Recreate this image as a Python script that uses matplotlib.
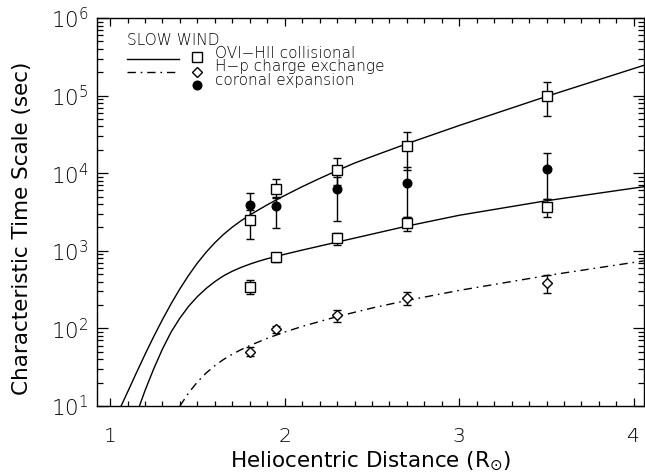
import numpy as np
import matplotlib
matplotlib.use("Agg")
import matplotlib.pyplot as plt
from matplotlib.ticker import FixedLocator, LogLocator, NullFormatter
from matplotlib.lines import Line2D

# ---- data ----
r_obs = [1.8, 1.95, 2.3, 2.7, 3.5]

coll_up = [2460, 6300, 11000, 22400, 99000]
coll_up_hi = [3400, 8400, 15500, 34000, 148000]
coll_up_lo = [1400, 4800, 7000, 11000, 54000]

coll_lo = [345, 825, 1450, 2300, 3700]
coll_lo_hi = [420, 945, 1680, 2760, 4600]
coll_lo_lo = [277, 725, 1190, 1820, 2760]

chex = [50, 97, 148, 245, 380]
chex_hi = [57, 107, 174, 292, 490]
chex_lo = [44, 87, 122, 200, 283]

expn = [3900, 3780, 6200, 7400, 11400]
expn_hi = [5500, 5000, 9000, 11900, 18300]
expn_lo = [2460, 1950, 2400, 2760, 4600]

# model curves
r_up = [1.063, 1.10, 1.15, 1.20, 1.25, 1.30, 1.35, 1.40, 1.45, 1.50, 1.55, 1.60, 1.65,
        1.70, 1.75, 1.80, 1.85, 1.90, 1.95, 2.00, 2.10, 2.20, 2.30, 2.40, 2.50, 2.70,
        3.00, 3.50, 4.057]
t_up = [10, 15.1, 26.6, 46.2, 78.5, 130, 209, 324, 484, 695, 959, 1270, 1630,
        2020, 2440, 2880, 3370, 3910, 4510, 5160, 6700, 8550, 10800, 13500, 16400, 24000,
        41200, 97700, 245500]

r_lo = [1.168, 1.20, 1.25, 1.30, 1.35, 1.40, 1.45, 1.50, 1.55, 1.60, 1.65, 1.70, 1.75,
        1.80, 1.85, 1.90, 2.00, 2.10, 2.30, 2.70, 3.00, 3.50, 4.057]
t_lo = [10, 15.8, 30.2, 54.3, 90.2, 136, 193, 257, 327, 401, 476, 546, 611,
        673, 733, 791, 902, 1021, 1294, 2080, 2870, 4420, 6700]

r_cx = [1.40, 1.45, 1.50, 1.55, 1.60, 1.65, 1.70, 1.75, 1.80, 1.90, 2.00, 2.10, 2.30,
        2.50, 2.70, 3.00, 3.50, 4.057]
t_cx = [10, 14.8, 20.4, 26.6, 33.1, 39.8, 46.5, 53.2, 60.1, 74.5, 89.7, 106, 142,
        183, 229, 309, 479, 741]

xticks = [1, 2, 3, 4]
xticklabels = ["1", "2", "3", "4"]
yticks = [1e1, 1e2, 1e3, 1e4, 1e5, 1e6]
yticklabels = [r"$10^{1}$", r"$10^{2}$", r"$10^{3}$", r"$10^{4}$", r"$10^{5}$", r"$10^{6}$"]

legend_title = "SLOW WIND"
legend_labels = ["OVI\u2212HII collisional", "H\u2212p charge exchange", "coronal expansion"]

# ---- figure ----
plt.rcParams['font.family'] = ['DejaVu Sans']
plt.rcParams['font.weight'] = 'light'
plt.rcParams['mathtext.default'] = 'regular'
fig = plt.figure(figsize=(6.45, 4.76), dpi=100)
ax = fig.add_axes([97 / 645, 1 - 406 / 476, 547 / 645, 388 / 476])

dd = (0, (6, 3.5, 1.2, 3.5))
ax.plot(r_up, t_up, color='k', lw=1.0)
ax.plot(r_lo, t_lo, color='k', lw=1.0)
ax.plot(r_cx, t_cx, color='k', lw=1.0, linestyle=dd)

def err(vals, hi, lo):
    v = np.array(vals, float)
    return [v - np.array(lo, float), np.array(hi, float) - v]

ekw = dict(ecolor='k', elinewidth=1.0, capsize=2.6, capthick=1.0, linestyle='none')
ax.errorbar(r_obs, expn, yerr=err(expn, expn_hi, expn_lo), marker='o', ms=6.2,
            mfc='k', mec='k', **ekw)
ax.errorbar(r_obs, coll_up, yerr=err(coll_up, coll_up_hi, coll_up_lo), marker='s', ms=6.5,
            mfc='white', mec='k', mew=1.0, **ekw)
ax.errorbar(r_obs, coll_lo, yerr=err(coll_lo, coll_lo_hi, coll_lo_lo), marker='s', ms=6.5,
            mfc='white', mec='k', mew=1.0, **ekw)
ax.errorbar(r_obs, chex, yerr=err(chex, chex_hi, chex_lo), marker='D', ms=5.0,
            mfc='white', mec='k', mew=1.0, **ekw)

ax.set_yscale('log')
ax.set_xlim(0.925, 4.058)
ax.set_ylim(10, 1e6)

ax.xaxis.set_major_locator(FixedLocator(xticks))
ax.set_xticklabels(xticklabels)
ax.xaxis.set_minor_locator(FixedLocator(np.round(np.arange(0.9, 4.1, 0.1), 2)))
ax.yaxis.set_major_locator(FixedLocator(yticks))
ax.set_yticklabels(yticklabels)
ax.yaxis.set_minor_locator(LogLocator(base=10, subs=np.arange(2, 10)))
ax.yaxis.set_minor_formatter(NullFormatter())

ax.tick_params(axis='both', which='both', direction='in', top=True, right=True,
               width=0.9, colors='k')
ax.tick_params(axis='x', which='major', length=6, pad=15, labelsize=14.5)
ax.tick_params(axis='x', which='minor', length=3.3)
ax.tick_params(axis='y', which='major', length=8, pad=6, labelsize=15.5)
ax.tick_params(axis='y', which='minor', length=4.3)
for s in ax.spines.values():
    s.set_linewidth(1.0)

ax.set_xlabel(r"Heliocentric Distance (R$_{\odot}$)", fontsize=15.5, labelpad=3)
ax.set_ylabel("Characteristic Time Scale (sec)", fontsize=15.5)
ax.yaxis.set_label_coords(-0.118, 0.459)

# legend drawn by hand
tr = ax.transAxes
ax.text(0.055, 0.943, legend_title, transform=tr, fontsize=11, va='center', ha='left')
ax.add_line(Line2D([0.055, 0.150], [0.894, 0.894], transform=tr, color='k', lw=1.0))
ax.add_line(Line2D([0.055, 0.150], [0.862, 0.862], transform=tr, color='k', lw=1.0, linestyle=dd))
ax.plot([0.182], [0.899], transform=tr, marker='s', ms=6.5, mfc='white', mec='k', mew=1.0, ls='none')
ax.plot([0.182], [0.862], transform=tr, marker='D', ms=5.0, mfc='white', mec='k', mew=1.0, ls='none')
ax.plot([0.182], [0.827], transform=tr, marker='o', ms=6.2, mfc='k', mec='k', ls='none')
for y, lab in zip([0.909, 0.874, 0.838], legend_labels):
    ax.text(0.215, y, lab, transform=tr, fontsize=11, va='center', ha='left')

fig.savefig("out.png", dpi=100)
